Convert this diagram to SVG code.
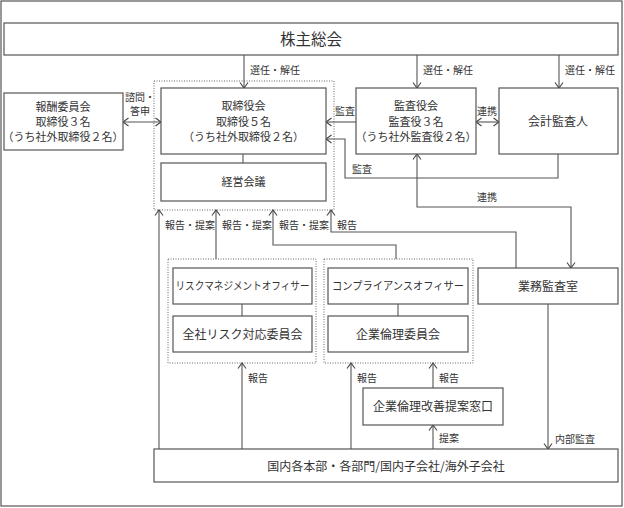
<svg xmlns="http://www.w3.org/2000/svg" width="624" height="508" viewBox="0 0 624 508">
<style>
text{font-family:"Noto Sans CJK JP","Noto Sans CJK SC",sans-serif;fill:#333;}
.box{fill:#fff;stroke:#555;stroke-width:1.2;}
.grp{fill:none;stroke:#666;stroke-width:1;stroke-dasharray:1,1.5;}
.ln{fill:none;stroke:#555;stroke-width:1.1;}
.arr{marker-end:url(#ah);}
.dbl{marker-start:url(#ah);marker-end:url(#ah);}
.t11{font-size:11px;text-anchor:middle;}
.t12{font-size:12px;text-anchor:middle;}
.lb{font-size:10px;}
</style>
<defs>
<marker id="ah" markerUnits="userSpaceOnUse" markerWidth="8" markerHeight="10" refX="6" refY="4" orient="auto-start-reverse" overflow="visible">
<path d="M0.5,0 L6,4 L0.5,8" fill="none" stroke="#444" stroke-width="1.1"/>
</marker>
</defs>
<rect x="1" y="1" width="621" height="505" fill="#fff" stroke="#555" stroke-width="1.2"/>

<g id="groups">
<rect class="grp" x="154" y="81" width="180" height="129"/>
<rect class="grp" x="168" y="259" width="148" height="104"/>
<rect class="grp" x="324" y="259" width="149" height="104"/>
</g>

<g id="connectors">
<path class="ln arr" d="M244,55 V88"/>
<path class="ln arr" d="M417,55 V88"/>
<path class="ln arr" d="M559,55 V88"/>
<path class="ln dbl" d="M123,122 H161"/>
<path class="ln arr" d="M356,122 H326"/>
<path class="ln arr" d="M558,154 V178 H345 V139 H326"/>
<path class="ln dbl" d="M476,122 H499"/>
<path class="ln dbl" d="M417,154 V207 H571 V268"/>
<path class="ln" d="M243,154 V163"/>
<path class="ln arr" d="M159,449 V210"/>
<path class="ln arr" d="M216,259 V210"/>
<path class="ln arr" d="M396,259 V245 H273 V210"/>
<path class="ln arr" d="M516,268 V232 H331 V210"/>
<path class="ln" d="M242,304 V316"/>
<path class="ln" d="M398,304 V316"/>
<path class="ln arr" d="M242,449 V363"/>
<path class="ln arr" d="M351,449 V363"/>
<path class="ln arr" d="M433,388 V363"/>
<path class="ln arr" d="M433,449 V425"/>
<path class="ln arr" d="M548,304 V449"/>
</g>

<g id="labels">
<text class="lb" x="250" y="74">選任・解任</text>
<text class="lb" x="423" y="74">選任・解任</text>
<text class="lb" x="565" y="74">選任・解任</text>
<text class="lb" x="125" y="101">諮問・</text>
<text class="lb" x="130" y="115">答申</text>
<text class="lb" x="335" y="115">監査</text>
<text class="lb" x="477" y="115">連携</text>
<text class="lb" x="352" y="173">監査</text>
<text class="lb" x="477" y="201">連携</text>
<text class="lb" x="165" y="229">報告・提案</text>
<text class="lb" x="222" y="229">報告・提案</text>
<text class="lb" x="279" y="229">報告・提案</text>
<text class="lb" x="337" y="229">報告</text>
<text class="lb" x="248" y="382">報告</text>
<text class="lb" x="357" y="382">報告</text>
<text class="lb" x="439" y="382">報告</text>
<text class="lb" x="439" y="442">提案</text>
<text class="lb" x="555" y="443">内部監査</text>
</g>

<g id="shareholders">
<rect class="box" x="4" y="23" width="614" height="32"/>
<text x="311" y="45" style="font-size:15.5px;text-anchor:middle">株主総会</text>
</g>
<g id="compensation">
<rect class="box" x="4" y="93" width="119" height="57"/>
<text class="t11" x="63" y="111">報酬委員会</text>
<text class="t11" x="63" y="126">取締役３名</text>
<text class="t11" x="63" y="141">（うち社外取締役２名）</text>
</g>
<g id="board">
<rect class="box" x="161" y="88" width="165" height="66"/>
<text class="t11" x="243.5" y="110">取締役会</text>
<text class="t11" x="243.5" y="126">取締役５名</text>
<text class="t11" x="243.5" y="141">（うち社外取締役２名）</text>
</g>
<g id="management">
<rect class="box" x="161" y="163" width="165" height="38"/>
<text class="t11" x="243.5" y="186">経営会議</text>
</g>
<g id="auditors">
<rect class="box" x="356" y="88" width="120" height="66"/>
<text class="t11" x="416" y="110">監査役会</text>
<text class="t11" x="416" y="126">監査役３名</text>
<text class="t11" x="416" y="141">（うち社外監査役２名）</text>
</g>
<g id="accounting">
<rect class="box" x="499" y="88" width="119" height="66"/>
<text class="t12" x="558" y="126">会計監査人</text>
</g>
<g id="internal-audit">
<rect class="box" x="478" y="268" width="140" height="36"/>
<text class="t12" x="548" y="291">業務監査室</text>
</g>
<g id="risk-officer">
<rect class="box" x="173" y="268" width="139" height="36"/>
<text class="t11" x="242.5" y="290" textLength="134" lengthAdjust="spacingAndGlyphs">リスクマネジメントオフィサー</text>
</g>
<g id="risk-committee">
<rect class="box" x="173" y="316" width="139" height="36"/>
<text class="t12" x="242.5" y="339">全社リスク対応委員会</text>
</g>
<g id="compliance-officer">
<rect class="box" x="328" y="268" width="140" height="36"/>
<text class="t11" x="398" y="290" textLength="132" lengthAdjust="spacingAndGlyphs">コンプライアンスオフィサー</text>
</g>
<g id="ethics-committee">
<rect class="box" x="328" y="316" width="140" height="36"/>
<text class="t12" x="398" y="339">企業倫理委員会</text>
</g>
<g id="ethics-window">
<rect class="box" x="363" y="388" width="140" height="37"/>
<text class="t12" x="433" y="411">企業倫理改善提案窓口</text>
</g>
<g id="divisions">
<rect class="box" x="154" y="449" width="464" height="33"/>
<text class="t12" x="386" y="471">国内各本部・各部門/国内子会社/海外子会社</text>
</g>
</svg>
